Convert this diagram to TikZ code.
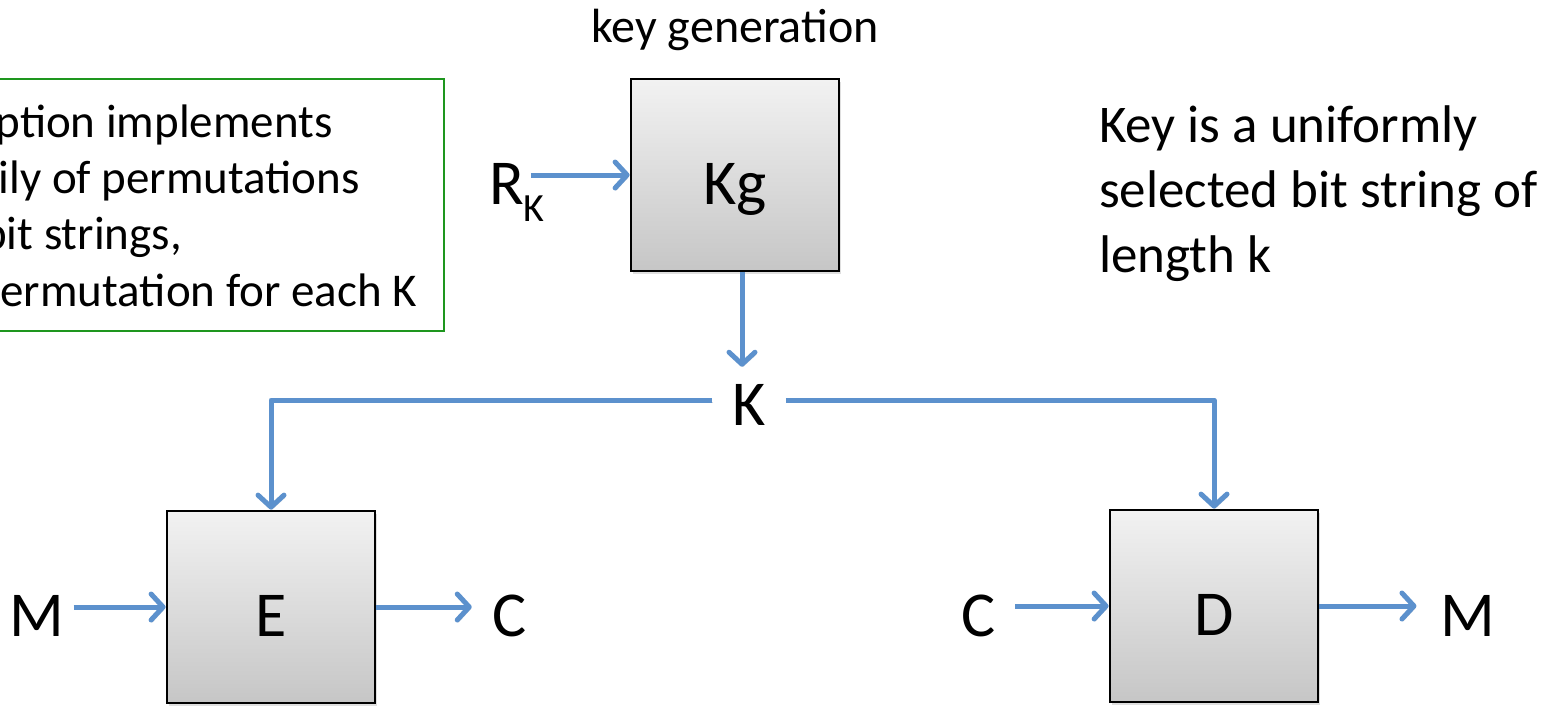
\documentclass[tikz,border=0pt]{standalone}
\usepackage{fontspec}
\setmainfont{Carlito}
\usetikzlibrary{arrows.meta,shadows}
\definecolor{arrowblue}{RGB}{92,145,205}
\definecolor{boxtop}{RGB}{242,242,242}
\definecolor{boxbot}{RGB}{198,198,198}
\definecolor{notegreen}{RGB}{30,150,30}
\tikzset{
  block/.style={draw=black, line width=2.8pt, top color=boxtop, bottom color=boxbot,
    minimum width=208pt, minimum height=192pt, inner sep=0pt,
    text height=58pt, text depth=0pt, font=\fontsize{64}{77}\selectfont,
    drop shadow={shadow xshift=2pt, shadow yshift=-3pt, opacity=0.25}},
  biglabel/.style={font=\fontsize{64}{77}\selectfont, inner xsep=4pt, inner ysep=2pt, anchor=base},
  notetext/.style={font=\fontsize{47}{57}\selectfont, inner sep=0pt, anchor=base east},
  keytext/.style={font=\fontsize{53}{65}\selectfont, inner sep=0pt, anchor=base west},
  arr/.style={draw=arrowblue, line width=5pt, line join=round,
    -{Straight Barb[length=12pt,width=26pt,round]},
    preaction={draw=black, opacity=0.15, transform canvas={shift={(1pt,-2.5pt)}}}},
}
\begin{document}
\begin{tikzpicture}[x=1pt,y=-1pt]
\useasboundingbox (0,0) rectangle (1557,707);
\clip (0,0) rectangle (1557,707);

% note box (partly outside the picture)
\draw[notegreen, line width=2pt] (-30,79) rectangle (444,331);
\node[notetext] (n1) at (333,137) {ption implements};
\node[notetext] (n2) at (360,193) {ily of permutations};
\node[notetext] (n3) at (182,249) {bit strings,};
\node[notetext] (n4) at (417,306) {permutation for each K};

% right text
\node[keytext] (k1) at (1099,142) {Key is a uniformly};
\node[keytext] (k2) at (1099,207) {selected bit string of};
\node[keytext] (k3) at (1099,272) {length k};

% key generation
\node[font=\fontsize{48}{58}\selectfont, inner sep=0pt, anchor=base] (kgl) at (735,42) {key generation};
\node[block] (Kg) at (735,175) {Kg};
\node[anchor=base west, font=\fontsize{64}{77}\selectfont, inner sep=0pt] (RK) at (489,204)
  {R\raisebox{-17pt}{\fontsize{40}{48}\selectfont K}};

% K
\node[biglabel, inner xsep=20pt, inner ysep=17pt] (K) at (749,425) {K};

% E and D
\node[block] (E) at (271,607) {E};
\node[block] (D) at (1214,606) {D};

\node[biglabel] (M1) at (37,636) {M};
\node[biglabel] (C1) at (510,636) {C};
\node[biglabel] (C2) at (979,636) {C};
\node[biglabel] (M2) at (1468,636) {M};

% connectors
\draw[arr] ([xshift=-14]RK.east |- Kg.west) -- (Kg.west);
\draw[arr] ([xshift=7]Kg.south) -- ([xshift=7]Kg.south |- K.north);
\draw[arr] (K.west |- 0,400) -| (E.north);
\draw[arr] (K.east |- 0,400) -| (D.north);
\draw[arr, shorten <=5pt] (M1.east |- E.west) -- (E.west);
\draw[arr, shorten >=17pt] (E.east) -- (C1.west |- E.east);
\draw[arr, shorten <=15pt] (C2.east |- D.west) -- (D.west);
\draw[arr, shorten >=20pt] (D.east) -- (M2.west |- D.east);
\end{tikzpicture}
\end{document}
